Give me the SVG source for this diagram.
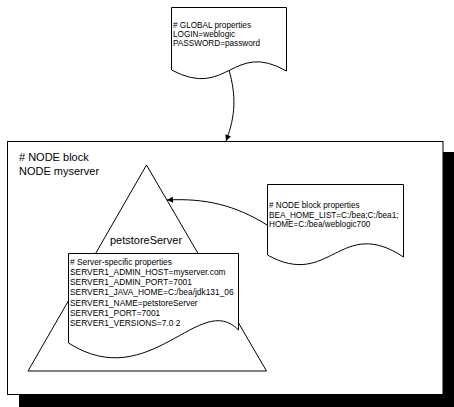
<svg xmlns="http://www.w3.org/2000/svg" width="454" height="407" viewBox="0 0 454 407">
<style>
  .sh { fill: #fff; stroke: #000; stroke-width: 1; }
  .t { font-family: "Liberation Sans", Arial, sans-serif; fill: #000; }
  .s { font-size: 8.2px; }
  .s2 { font-size: 8.4px; }
  .m { font-size: 11px; }
  .con { fill: none; stroke: #000; stroke-width: 1; }
</style>
<defs>
  <marker id="ah" viewBox="0 0 10 10" refX="10" refY="5" markerWidth="9" markerHeight="6" orient="auto" markerUnits="userSpaceOnUse">
    <path d="M0,0 L10,5 L0,10 z" fill="#000"/>
  </marker>
</defs>

<g id="node-block">
  <rect x="19" y="152" width="435" height="255" fill="#000"/>
  <rect x="7.5" y="141.5" width="435.5" height="253" class="sh"/>
  <text class="t m" x="19" y="161">
    <tspan x="19" y="161"># NODE block</tspan>
    <tspan x="19" y="175">NODE myserver</tspan>
  </text>
</g>

<g id="petstoreServer">
  <path d="M146.5,165 L266.5,371 L28,371 Z" class="sh"/>
  <text class="t m" x="146" y="244" text-anchor="middle">petstoreServer</text>
</g>

<g id="server-properties">
  <path d="M68.5,253.5 H238.5 V330 C200,290 150,395 68.5,343 Z" class="sh"/>
  <text class="t s2">
    <tspan x="70" y="264.5"># Server-specific properties</tspan>
    <tspan x="70" y="274.8">SERVER1_ADMIN_HOST=myserver.com</tspan>
    <tspan x="70" y="285.1">SERVER1_ADMIN_PORT=7001</tspan>
    <tspan x="70" y="295.4">SERVER1_JAVA_HOME=C:/bea/jdk131_06</tspan>
    <tspan x="70" y="305.7">SERVER1_NAME=petstoreServer</tspan>
    <tspan x="70" y="316">SERVER1_PORT=7001</tspan>
    <tspan x="70" y="326.3">SERVER1_VERSIONS=7.0 2</tspan>
  </text>
</g>

<g id="global-properties">
  <path d="M171.5,7.5 H286.5 V71 C232,40 228,100 171.5,70 Z" class="sh"/>
  <text class="t s">
    <tspan x="173" y="28"># GLOBAL properties</tspan>
    <tspan x="173" y="37">LOGIN=weblogic</tspan>
    <tspan x="173" y="46">PASSWORD=password</tspan>
  </text>
</g>

<g id="node-properties">
  <path d="M267.5,184.5 H403.5 V257 C340,215 330,290 267.5,255 Z" class="sh"/>
  <text class="t s">
    <tspan x="269" y="207.5"># NODE block properties</tspan>
    <tspan x="269" y="217.5">BEA_HOME_LIST=C:/bea;C:/bea1;</tspan>
    <tspan x="269" y="227">HOME=C:/bea/weblogic700</tspan>
  </text>
</g>

<g id="connectors">
  <path d="M229,70 C236,95 236,115 226,141" class="con" marker-end="url(#ah)"/>
  <path d="M267,225 C235,205 205,198 167,200" class="con" marker-end="url(#ah)"/>
</g>
</svg>
